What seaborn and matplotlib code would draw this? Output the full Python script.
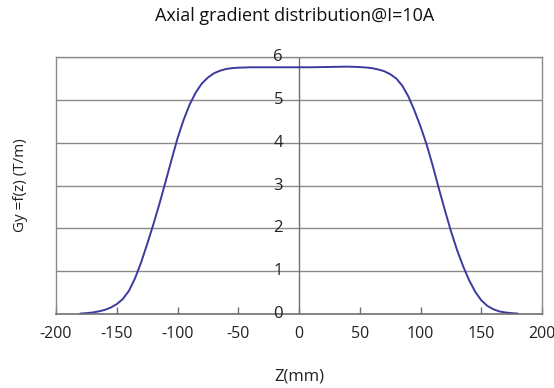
import matplotlib
matplotlib.use("Agg")
import matplotlib.pyplot as plt
import matplotlib.transforms as mtransforms
import seaborn as sns
import pandas as pd

# Axial position along the magnet (mm)
z_mm = [-180, -175, -170, -165, -160, -155, -150, -145, -140, -135,
        -130, -125, -120, -115, -110, -105, -100, -95, -90, -85,
        -80, -75, -70, -65, -60, -55, -50, -40, -30, -20,
        -10, 0, 10, 20, 30, 40, 50, 55, 60, 65,
        70, 75, 80, 85, 90, 95, 100, 105, 110, 115,
        120, 125, 130, 135, 140, 145, 150, 155, 160, 165,
        170, 175, 180]

# Gradient Gy (T/m) at I = 10 A
gy = [0.01, 0.02, 0.035, 0.06, 0.095, 0.15, 0.23, 0.35, 0.54, 0.83,
      1.20, 1.63, 2.08, 2.56, 3.07, 3.59, 4.10, 4.53, 4.89, 5.17,
      5.38, 5.52, 5.62, 5.68, 5.72, 5.74, 5.75, 5.76, 5.76, 5.76,
      5.76, 5.76, 5.76, 5.765, 5.77, 5.775, 5.765, 5.755, 5.74, 5.71,
      5.67, 5.60, 5.50, 5.33, 5.08, 4.75, 4.38, 3.96, 3.47, 2.94,
      2.43, 1.94, 1.50, 1.12, 0.79, 0.52, 0.32, 0.19, 0.11, 0.06,
      0.035, 0.02, 0.01]

x_ticks = [-200, -150, -100, -50, 0, 50, 100, 150, 200]
y_ticks = [0, 1, 2, 3, 4, 5, 6]

sns.set_theme(style="white")
plt.rcParams["font.family"] = ["Open Sans", "DejaVu Sans"]
plt.rcParams["axes.unicode_minus"] = False

df = pd.DataFrame({"z": z_mm, "gy": gy})

fig = plt.figure(figsize=(5.54, 3.88), dpi=100)
ax = fig.add_axes([56 / 554, 1 - 314 / 388, (542 - 56) / 554, (314 - 57) / 388])

sns.lineplot(data=df, x="z", y="gy", ax=ax, color="#3b3a9e", linewidth=1.4)

ax.set_xlim(-200, 200)
ax.set_ylim(0, 6)
ax.set_xticks(x_ticks)
ax.set_yticks(y_ticks)

ax.yaxis.grid(True, color="#8a8a8a", linewidth=1.0)
ax.set_axisbelow(True)

for side in ["top", "right", "left"]:
    ax.spines[side].set_color("#8a8a8a")
    ax.spines[side].set_linewidth(1.0)
ax.spines["bottom"].set_color("#707070")
ax.spines["bottom"].set_linewidth(1.2)

# Vertical axis line at z = 0 carrying the value labels
ax.axvline(0, color="#707070", linewidth=1.0, zorder=1)
ax.tick_params(axis="y", which="both", length=0, labelleft=False)
label_trans = mtransforms.offset_copy(ax.transData, fig=fig, x=-16, y=0, units="dots")
for v in y_ticks:
    ax.text(0, v, str(v), transform=label_trans, ha="right", va="center",
            fontsize=12, color="#222222", zorder=3)

ax.tick_params(axis="x", which="both", direction="in", length=5, width=1,
               color="#707070", pad=9, labelsize=11.5, labelcolor="#222222")
ax.xaxis.set_ticks_position("bottom")

ax.set_xlabel("Z(mm)", fontsize=12, color="#222222", labelpad=19)
ax.set_ylabel("Gy =f(z) (T/m)", fontsize=11, color="#222222", labelpad=20)

fig.suptitle("Axial gradient distribution@I=10A", x=295 / 554, y=1 - 7 / 388,
             fontsize=13, color="#111111", va="top")

fig.savefig("out.png", dpi=100)
